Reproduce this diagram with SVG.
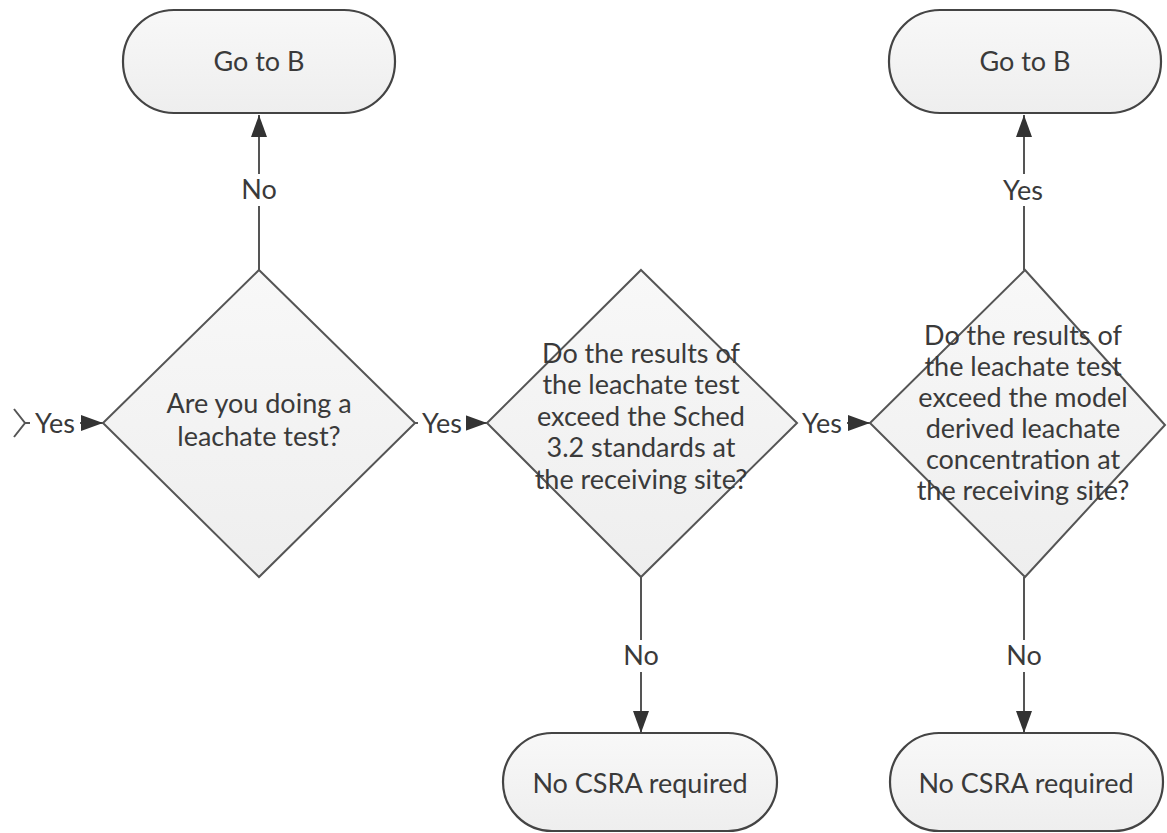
<svg xmlns="http://www.w3.org/2000/svg" width="1167" height="833" viewBox="0 0 1167 833">
  <defs>
    <linearGradient id="fillg" x1="0" y1="0" x2="0" y2="1">
      <stop offset="0" stop-color="#f8f8f8"/>
      <stop offset="1" stop-color="#eeeeee"/>
    </linearGradient>
    <marker id="arrow" viewBox="0 0 22 16" refX="22" refY="8" markerWidth="22" markerHeight="16" markerUnits="userSpaceOnUse" orient="auto">
      <path d="M0,0 L22,8 L0,16 z" fill="#333333"/>
    </marker>
  </defs>
  <style>
    .shape { fill: url(#fillg); stroke: #555555; stroke-width: 2; }
    .term { fill: url(#fillg); stroke: #444444; stroke-width: 2.2; }
    .txt { font-family: Lato, "Liberation Sans", sans-serif; font-size: 27px; fill: #3a3a3a; text-anchor: middle; }
    .conn { fill: none; stroke: #555555; stroke-width: 2; }
    .lblbg { fill: #ffffff; }
  </style>
  <rect x="0" y="0" width="1167" height="833" fill="#ffffff"/>

  <!-- partial shape cut off at left edge -->
  <polyline class="conn" points="14,409 25,423 14,437"/>

  <g id="connectors">
    <path class="conn" d="M25,423 L103,423" marker-end="url(#arrow)"/>
    <path class="conn" d="M415,423 L487,423" marker-end="url(#arrow)"/>
    <path class="conn" d="M797,423 L870,423" marker-end="url(#arrow)"/>
    <path class="conn" d="M259,270 L259,115" marker-end="url(#arrow)"/>
    <path class="conn" d="M641,577 L641,733" marker-end="url(#arrow)"/>
    <path class="conn" d="M1024,270 L1024,115" marker-end="url(#arrow)"/>
    <path class="conn" d="M1024,577 L1024,733" marker-end="url(#arrow)"/>

    <rect class="lblbg" x="30" y="410" width="50" height="26"/>
    <text class="txt" x="55" y="433">Yes</text>
    <rect class="lblbg" x="418" y="410" width="48" height="26"/>
    <text class="txt" x="442" y="433">Yes</text>
    <rect class="lblbg" x="797" y="410" width="50" height="26"/>
    <text class="txt" x="822" y="433">Yes</text>

    <rect class="lblbg" x="241" y="174" width="36" height="32"/>
    <text class="txt" x="259" y="199">No</text>
    <rect class="lblbg" x="623" y="640" width="36" height="32"/>
    <text class="txt" x="641" y="665">No</text>
    <rect class="lblbg" x="998" y="174" width="52" height="32"/>
    <text class="txt" x="1023" y="200">Yes</text>
    <rect class="lblbg" x="1006" y="640" width="36" height="32"/>
    <text class="txt" x="1024" y="665">No</text>
  </g>

  <g id="goto-b-left">
    <rect class="term" x="123" y="10" width="272" height="103" rx="51" ry="51"/>
    <text class="txt" x="259" y="71">Go to B</text>
  </g>

  <g id="goto-b-right">
    <rect class="term" x="889" y="10" width="272" height="103" rx="51" ry="51"/>
    <text class="txt" x="1025" y="71">Go to B</text>
  </g>

  <g id="decision-leachate-test">
    <polygon class="shape" points="259,270 415,423 259,577 103,423"/>
    <text class="txt" x="259" y="413">Are you doing a</text>
    <text class="txt" x="259" y="446">leachate test?</text>
  </g>

  <g id="decision-sched-standards">
    <polygon class="shape" points="641,270 797,423 641,577 487,423"/>
    <text class="txt" x="641" y="363">Do the results of</text>
    <text class="txt" x="641" y="394">the leachate test</text>
    <text class="txt" x="641" y="426">exceed the Sched</text>
    <text class="txt" x="641" y="457">3.2 standards at</text>
    <text class="txt" x="641" y="489">the receiving site?</text>
  </g>

  <g id="decision-model-derived">
    <polygon class="shape" points="1025,270 1165,425 1025,577 870,423"/>
    <text class="txt" x="1023" y="345">Do the results of</text>
    <text class="txt" x="1023" y="376">the leachate test</text>
    <text class="txt" x="1023" y="407">exceed the model</text>
    <text class="txt" x="1023" y="438">derived leachate</text>
    <text class="txt" x="1023" y="469">concentration at</text>
    <text class="txt" x="1023" y="500">the receiving site?</text>
  </g>

  <g id="no-csra-middle">
    <rect class="term" x="503" y="733" width="274" height="98" rx="49" ry="49"/>
    <text class="txt" x="640" y="793">No CSRA required</text>
  </g>

  <g id="no-csra-right">
    <rect class="term" x="890" y="733" width="273" height="98" rx="49" ry="49"/>
    <text class="txt" x="1026" y="793">No CSRA required</text>
  </g>
</svg>
